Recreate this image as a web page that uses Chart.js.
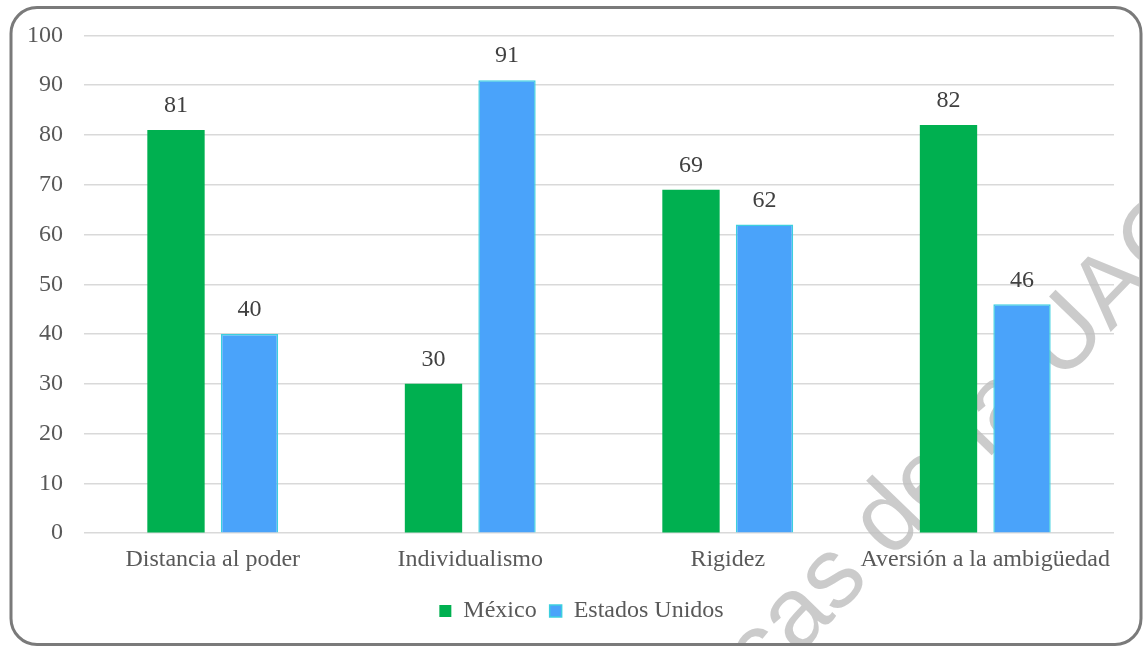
<!DOCTYPE html>
<html>
<head>
<meta charset="utf-8">
<script src="https://cdn.jsdelivr.net/npm/chart.js@4.4.1/dist/chart.umd.min.js"></script>
<style>
html,body{margin:0;padding:0;background:#fff;}
#wrap{position:relative;width:1144px;height:647px;}
</style>
</head>
<body>
<div id="wrap"><canvas id="c" width="1144" height="647"></canvas></div>
<script>
const categories = ["Distancia al poder", "Individualismo", "Rigidez", "Aversión a la ambigüedad"];
const mexico = [81, 30, 69, 82];
const estadosUnidos = [40, 91, 62, 46];
const seriesNames = ["México", "Estados Unidos"];
const yTicks = [0, 10, 20, 30, 40, 50, 60, 70, 80, 90, 100];
const watermarkText = "cas de la UAC";

const FONT = "'Liberation Serif', 'Times New Roman', serif";

const frame = {
  id: 'frame',
  beforeDraw(chart) {
    const ctx = chart.ctx;
    ctx.save();
    ctx.fillStyle = '#fff';
    ctx.fillRect(0, 0, chart.width, chart.height);
    ctx.strokeStyle = '#7a7a7a';
    ctx.lineWidth = 3;
    ctx.beginPath();
    ctx.roundRect(11, 7.5, 1130, 637, 26);
    ctx.stroke();
    ctx.restore();
  }
};

const legendShift = {
  id: 'legendShift',
  afterLayout(chart) {
    if (chart.legend) {
      chart.legend.left += 11;
      chart.legend.right += 11;
    }
  }
};

const watermark = {
  id: 'watermark',
  beforeDatasetsDraw(chart) {
    const ctx = chart.ctx;
    ctx.save();
    ctx.beginPath();
    ctx.rect(12, 9, 1127, 634);
    ctx.clip();
    ctx.translate(763, 692);
    ctx.rotate(-46 * Math.PI / 180);
    ctx.font = "100px 'Liberation Sans', Arial, sans-serif";
    ctx.fillStyle = 'rgba(190,190,190,0.8)';
    ctx.textBaseline = 'alphabetic';
    ctx.fillText(watermarkText, 0, 0);
    ctx.restore();
  }
};

const labels = {
  id: 'valueLabels',
  afterDatasetsDraw(chart) {
    const ctx = chart.ctx;
    ctx.save();
    ctx.font = "24px " + FONT;
    ctx.fillStyle = '#404040';
    ctx.textAlign = 'center';
    ctx.textBaseline = 'bottom';
    chart.data.datasets.forEach((ds, di) => {
      const meta = chart.getDatasetMeta(di);
      meta.data.forEach((bar, i) => {
        ctx.fillText(String(ds.data[i]), bar.x, bar.y - 12);
      });
    });
    ctx.restore();
  }
};

new Chart(document.getElementById('c'), {
  type: 'bar',
  data: {
    labels: categories,
    datasets: [
      { label: seriesNames[0], data: mexico, backgroundColor: '#00B050', borderColor: '#00B050', borderWidth: 0 },
      { label: seriesNames[1], data: estadosUnidos, backgroundColor: '#4AA3FA', borderColor: '#3CCFDF', borderWidth: 1.5 }
    ]
  },
  options: {
    responsive: false,
    animation: false,
    devicePixelRatio: 1,
    categoryPercentage: 0.571,
    barPercentage: 0.78,
    layout: { padding: { left: 27, right: 30, top: 28, bottom: 14 } },
    plugins: {
      legend: {
        position: 'bottom',
        labels: {
          font: { family: FONT, size: 24 },
          color: '#595959',
          boxWidth: 12,
          boxHeight: 12,
          padding: 13,
          useBorderRadius: false
        }
      },
      tooltip: { enabled: false }
    },
    scales: {
      x: {
        grid: { display: false, drawTicks: false },
        border: { display: false },
        ticks: { font: { family: FONT, size: 24 }, color: '#595959', padding: 12, maxRotation: 0, autoSkip: false }
      },
      y: {
        min: 0, max: 100,
        afterBuildTicks(scale) { scale.ticks = yTicks.map(v => ({ value: v })); },
        afterFit(scale) { scale.width = 57; },
        grid: { color: '#d9d9d9', lineWidth: 1.5, drawTicks: false },
        border: { display: false },
        ticks: { font: { family: FONT, size: 24 }, color: '#595959', padding: 21 }
      }
    }
  },
  plugins: [frame, legendShift, watermark, labels]
});
</script>
</body>
</html>
